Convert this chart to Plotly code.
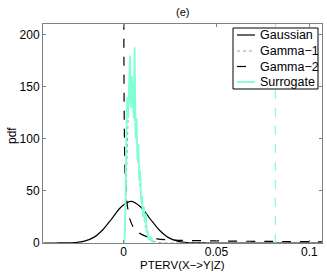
import plotly.graph_objects as go

# Gaussian fit
gauss_x = [-0.043, -0.036, -0.031, -0.026, -0.021, -0.016, -0.011, -0.006, -0.001, 0.004,
           0.009, 0.014, 0.019, 0.024, 0.029, 0.034, 0.039, 0.045, 0.107]
gauss_y = [0.0, 0.02, 0.1, 0.45, 1.8, 5.4, 13, 24, 35, 40,
           35, 24, 13, 5.4, 1.8, 0.45, 0.1, 0.02, 0.0]

# Gamma-1 fit
gam1_x = [0.0005, 0.001, 0.002, 0.003, 0.004, 0.005, 0.006, 0.007, 0.008, 0.009, 0.010,
          0.011, 0.012, 0.013, 0.014, 0.016, 0.020, 0.030, 0.107]
gam1_y = [0, 20, 90, 140, 155, 148, 125, 100, 75, 53, 36,
          24, 15, 9, 5, 2, 0.3, 0.0, 0.0]

# Gamma-2 fit
gam2_x = [0.0001, 0.0003, 0.0006, 0.001, 0.0018, 0.0027, 0.0036, 0.0054, 0.0075, 0.009,
          0.0135, 0.018, 0.023, 0.030, 0.050, 0.080, 0.107]
gam2_y = [300, 150, 90, 60, 40, 29, 22, 15, 11, 9,
          5.5, 4, 3.2, 2.6, 2.0, 1.5, 1.2]

# Surrogate histogram
surr_x = [0.0005, 0.0010, 0.0015, 0.0020, 0.0025, 0.0030, 0.0035, 0.0040, 0.0045, 0.0050,
          0.0055, 0.0060, 0.0065, 0.0070, 0.0075, 0.0080, 0.0085, 0.0090, 0.0095, 0.0100,
          0.0105, 0.0110, 0.0115, 0.0120, 0.0125, 0.0130, 0.0135, 0.0140, 0.0145, 0.0150,
          0.0155, 0.0160]
surr_y = [0, 30, 100, 140, 120, 150, 180, 130, 160, 140,
          120, 188, 100, 120, 80, 95, 60, 70, 40, 45,
          25, 35, 20, 28, 10, 12, 3, 6, 2, 6,
          0, 1]

# Original value (vertical line)
orig_x = [0.0817, 0.0817]
orig_y = [0, 210]

x_ticks = [0, 0.05, 0.1]
x_ticklabels = ["0", "0.05", "0.1"]
y_ticks = [0, 50, 100, 150, 200]

legend_labels = ["Gaussian", "Gamma\u22121", "Gamma\u22122", "Surrogate"]

W, H = 327, 273
ML, MR, MT, MB = 43, 5, 24, 30
PW, PH = W - ML - MR, H - MT - MB
FONT = "Liberation Sans, Arial, sans-serif"
AQUA = "#7fffd4"


def px_x(p):
    return (p - ML) / PW


def px_y(p):
    return (H - MB - p) / PH


styles = [
    dict(color="black", width=1.2, dash="solid"),
    dict(color="#999999", width=1, dash="dot"),
    dict(color="black", width=1.2, dash="dash"),
    dict(color=AQUA, width=1.8, dash="solid"),
]

fig = go.Figure()
fig.add_trace(go.Scatter(x=gauss_x, y=gauss_y, mode="lines", name=legend_labels[0],
                         line=dict(shape="spline", **styles[0])))
fig.add_trace(go.Scatter(x=gam1_x, y=gam1_y, mode="lines", name=legend_labels[1],
                         line=dict(shape="spline", **styles[1])))
fig.add_trace(go.Scatter(x=gam2_x, y=gam2_y, mode="lines", name=legend_labels[2],
                         line=dict(shape="spline", **styles[2])))
fig.add_trace(go.Scatter(x=surr_x, y=surr_y, mode="lines", name=legend_labels[3],
                         line=styles[3]))
fig.add_trace(go.Scatter(x=orig_x, y=orig_y, mode="lines",
                         line=dict(color=AQUA, width=1.2, dash="dash")))

axis_common = dict(showgrid=False, zeroline=False, showline=True, mirror="ticks",
                   linecolor="#808080", linewidth=1, ticks="inside", ticklen=3,
                   tickcolor="#808080", automargin=False,
                   tickfont=dict(family=FONT, size=12, color="black"))

shapes = []
annotations = []
# Custom legend box (MATLAB style)
shapes.append(dict(type="rect", xref="paper", yref="paper",
                   x0=px_x(233), x1=px_x(318), y0=px_y(89), y1=px_y(28),
                   line=dict(color="black", width=1), fillcolor="white", layer="above"))
row_y = [35, 51, 66.5, 82]
for lab, st, ry in zip(legend_labels, styles, row_y):
    shapes.append(dict(type="line", xref="paper", yref="paper",
                       x0=px_x(237), x1=px_x(255), y0=px_y(ry), y1=px_y(ry),
                       line=dict(color=st["color"], width=st["width"], dash=st["dash"]),
                       layer="above"))
    annotations.append(dict(text=lab, xref="paper", yref="paper",
                            x=px_x(258), y=px_y(ry), xanchor="left", yanchor="middle",
                            showarrow=False,
                            font=dict(family=FONT, size=12.5, color="black")))

# axis titles and panel title
annotations.append(dict(text="PTERV(X\u2212>Y|Z)", xref="paper", yref="paper",
                        x=0.5, y=px_y(265), xanchor="center", yanchor="middle",
                        showarrow=False, font=dict(family=FONT, size=11.5, color="black")))
annotations.append(dict(text="pdf", xref="paper", yref="paper",
                        x=px_x(12), y=px_y(136), xanchor="center", yanchor="middle",
                        textangle=-90, showarrow=False,
                        font=dict(family=FONT, size=12, color="black")))
annotations.append(dict(text="(e)", xref="paper", yref="paper",
                        x=0.5, y=px_y(12), xanchor="center", yanchor="middle",
                        showarrow=False, font=dict(family=FONT, size=11, color="black")))

fig.update_layout(
    width=W, height=H,
    margin=dict(l=ML, r=MR, t=MT, b=MB),
    paper_bgcolor="white", plot_bgcolor="white",
    xaxis=dict(range=[-0.0433, 0.1068], tickvals=x_ticks, ticktext=x_ticklabels,
               ticklabelstandoff=-2, **axis_common),
    yaxis=dict(range=[0, 210.3], tickvals=y_ticks, **axis_common),
    showlegend=False,
    hovermode=False,
    shapes=shapes,
    annotations=annotations,
)

fig.write_html("out.html", config={"displayModeBar": False, "staticPlot": True},
               post_script="document.body.style.margin='0';document.body.style.overflow='hidden';")
